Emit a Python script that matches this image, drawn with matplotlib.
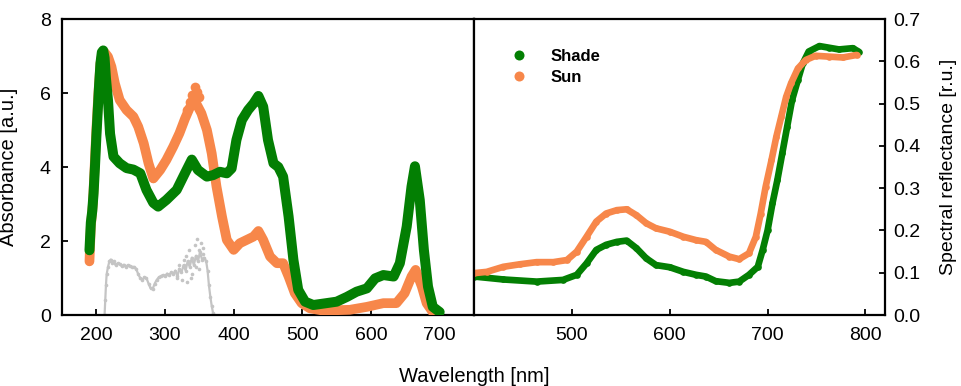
import numpy as np
import matplotlib
matplotlib.use('Agg')
import matplotlib.pyplot as plt
from matplotlib.ticker import FormatStrFormatter

plt.rcParams['font.family'] = ['Liberation Sans', 'DejaVu Sans']

# absorbance, shade leaves
abs_wl_shade = [190, 192, 194, 196, 198, 200, 202, 204, 206, 208, 210, 212, 214, 217, 220, 225,
                234, 244, 254, 264, 273, 283, 290, 302, 317, 329, 339, 348, 361, 370, 380, 390,
                397, 404, 412, 421, 429, 436, 443, 450, 458, 465, 472, 480, 487, 494, 504, 516,
                535, 550, 565, 579, 594, 606, 618, 633, 642, 652, 659, 664, 671, 677, 683, 690, 700]
abs_shade = [1.75, 2.5, 2.8, 3.3, 4.0, 4.8, 5.5, 6.2, 6.8, 7.1, 7.15, 6.95, 6.4, 5.8, 4.9, 4.28,
             4.1, 3.97, 3.93, 3.83, 3.38, 3.03, 2.93, 3.11, 3.38, 3.83, 4.2, 3.92, 3.74, 3.78, 3.87, 3.83,
             3.96, 4.73, 5.27, 5.54, 5.72, 5.92, 5.63, 4.73, 4.1, 4.0, 3.74, 2.66, 1.49, 0.68, 0.36, 0.27,
             0.32, 0.36, 0.49, 0.63, 0.72, 0.99, 1.08, 1.04, 1.40, 2.39, 3.47, 4.02, 3.11, 1.76, 0.77, 0.22, 0.08]

# absorbance, sun leaves
abs_wl_sun = [190, 192, 195, 198, 200, 203, 206, 209, 212, 217, 222, 227, 234, 244, 254, 261,
              269, 276, 283, 293, 302, 312, 321, 329, 336, 341, 346, 353, 361, 368, 375, 383,
              390, 400, 409, 419, 429, 436, 443, 453, 463, 472, 480, 489, 499, 511, 530, 569,
              594, 618, 637, 649, 659, 665, 674, 681, 691, 697]
abs_sun = [1.45, 2.4, 3.0, 4.2, 5.0, 6.0, 6.8, 7.1, 7.1, 6.98, 6.71, 6.26, 5.81, 5.54, 5.36, 5.09,
           4.64, 4.1, 3.69, 3.92, 4.19, 4.55, 4.91, 5.3, 5.6, 5.75, 5.7, 5.45, 5.0, 4.37, 3.47, 2.66,
           2.03, 1.76, 1.94, 2.03, 2.12, 2.27, 2.03, 1.58, 1.4, 1.4, 1.04, 0.59, 0.32, 0.18, 0.12, 0.14,
           0.22, 0.32, 0.32, 0.59, 1.04, 1.22, 0.77, 0.32, 0.05, 0.02]
# scattered sun points around the UV peak
sun_noise_wl = [343, 347, 340, 350, 336, 332]
sun_noise = [6.15, 6.02, 5.95, 5.9, 5.75, 5.55]

# grey difference spectrum
diff_wl = [212, 213, 214, 215, 217, 219, 221, 223, 225, 228, 231, 234, 237, 240, 243, 246, 249,
           252, 255, 258, 261, 264, 267, 270, 273, 276, 279, 282, 285, 288, 291, 294, 297, 300,
           303, 306, 309, 312, 315, 318, 321, 324, 327, 330, 333, 336, 339, 342, 345, 348, 351,
           354, 357, 360, 362, 364, 366, 368, 370]
diff_val = [0.0, 0.4, 0.8, 1.1, 1.3, 1.45, 1.5, 1.4, 1.45, 1.35, 1.4, 1.38, 1.32, 1.36, 1.3, 1.35, 1.33,
            1.3, 1.3, 1.25, 1.1, 1.0, 0.95, 1.02, 1.0, 0.85, 0.72, 0.7, 0.85, 0.95, 1.02, 1.05, 1.08, 1.05,
            1.12, 1.08, 1.15, 1.1, 1.2, 1.05, 1.25, 1.15, 1.35, 1.2, 1.45, 1.3, 1.55, 1.35, 1.6, 1.45, 1.7,
            1.5, 1.55, 1.45, 1.2, 0.8, 0.5, 0.25, 0.05]
diff_noise_wl = [325, 330, 335, 340, 343, 347, 350, 352, 355, 345, 338, 332, 328, 349, 356, 320, 318]
diff_noise = [0.95, 1.6, 1.75, 1.1, 1.9, 2.05, 1.25, 1.95, 1.8, 1.3, 1.0, 0.9, 1.5, 1.75, 1.65, 1.35, 1.0]

# reflectance
refl_wl_shade = [400, 430, 464, 491, 505, 515, 525, 535, 546, 556, 566, 576, 586, 600, 614, 627,
                 637, 647, 661, 671, 681, 690, 695, 700, 705, 710, 715, 720, 725, 731, 736, 742,
                 753, 763, 773, 787, 793]
refl_shade = [0.091, 0.084, 0.079, 0.083, 0.095, 0.122, 0.154, 0.166, 0.173, 0.176, 0.158, 0.134, 0.118,
              0.113, 0.102, 0.095, 0.091, 0.080, 0.076, 0.079, 0.095, 0.114, 0.154, 0.2, 0.264, 0.319,
              0.382, 0.445, 0.508, 0.556, 0.595, 0.623, 0.636, 0.632, 0.628, 0.631, 0.623]

refl_wl_sun = [400, 413, 430, 447, 464, 481, 495, 505, 515, 525, 535, 546, 556, 566, 576, 586,
               600, 614, 627, 637, 647, 661, 671, 681, 688, 693, 698, 704, 709, 714, 719, 724,
               731, 739, 749, 763, 777, 791]
refl_sun = [0.099, 0.102, 0.114, 0.12, 0.125, 0.125, 0.13, 0.15, 0.185, 0.221, 0.24, 0.248, 0.25,
            0.236, 0.217, 0.205, 0.197, 0.185, 0.177, 0.173, 0.154, 0.138, 0.132, 0.146, 0.185, 0.24,
            0.303, 0.366, 0.422, 0.469, 0.516, 0.548, 0.583, 0.603, 0.613, 0.611, 0.609, 0.615]

green = '#037f03'
orange = '#f7874a'
grey = '#c4c4c4'

fig = plt.figure(figsize=(9.61, 3.86), dpi=100)
ax1 = fig.add_axes([62 / 961, 1 - 315 / 386, 412 / 961, 296 / 386])
ax2 = fig.add_axes([474 / 961, 1 - 315 / 386, 411 / 961, 296 / 386])

ax1.plot(diff_wl, diff_val, '-o', color=grey, lw=1.6, ms=2.6, mec='none')
ax1.plot(diff_noise_wl, diff_noise, 'o', color=grey, ms=2.6, mec='none')
ax1.plot(abs_wl_sun, abs_sun, '-', color=orange, lw=7, solid_capstyle='round',
         solid_joinstyle='round', zorder=3)
ax1.plot(sun_noise_wl, sun_noise, 'o', color=orange, ms=7, mec='none', zorder=3)
ax1.plot(abs_wl_shade, abs_shade, '-', color=green, lw=7.2, solid_capstyle='round',
         solid_joinstyle='round', zorder=4)

ax2.plot(refl_wl_shade, refl_shade, '-o', color=green, lw=4.8, ms=4.8, mec='none', label='Shade',
         solid_capstyle='round', solid_joinstyle='round')
ax2.plot(refl_wl_sun, refl_sun, '-o', color=orange, lw=4.8, ms=4.8, mec='none', label='Sun',
         solid_capstyle='round', solid_joinstyle='round')

ax1.set_xlim(150, 750)
ax1.set_ylim(0, 8)
ax1.set_xticks([200, 300, 400, 500, 600, 700])
ax1.set_yticks([0, 2, 4, 6, 8])
ax2.set_xlim(400, 820)
ax2.set_ylim(0, 0.7)
ax2.set_xticks([500, 600, 700, 800])
ax2.set_yticks(np.arange(0, 0.71, 0.1))
ax2.yaxis.set_major_formatter(FormatStrFormatter('%.1f'))
ax2.yaxis.tick_right()

for ax in (ax1, ax2):
    for s in ax.spines.values():
        s.set_linewidth(1.6)
    ax.tick_params(direction='in', length=4, width=1.3, labelsize=14)
ax1.tick_params(axis='y', pad=8)
ax1.tick_params(axis='x', pad=9)
ax2.tick_params(axis='y', pad=6, right=True, left=False)
ax2.tick_params(axis='x', pad=9)

ax1.set_ylabel('Absorbance [a.u.]', fontsize=14.5)
ax1.yaxis.set_label_coords(-0.108, 0.5)
ax2.yaxis.set_label_position('right')
ax2.set_ylabel('Spectral reflectance [r.u.]', fontsize=14)
ax2.yaxis.set_label_coords(1.135, 0.5)
fig.text(474 / 961, 1 - 376 / 386, 'Wavelength [nm]', ha='center', va='center', fontsize=14.5)

leg = ax2.legend(loc='upper left', bbox_to_anchor=(0.06, 0.95), frameon=False,
                 handlelength=0.6, handletextpad=1.6, labelspacing=0.35, markerscale=1.5,
                 prop={'weight': 'bold', 'size': 12})
for h in leg.legend_handles:
    h.set_linestyle('none')

fig.savefig('out.png', dpi=100)
